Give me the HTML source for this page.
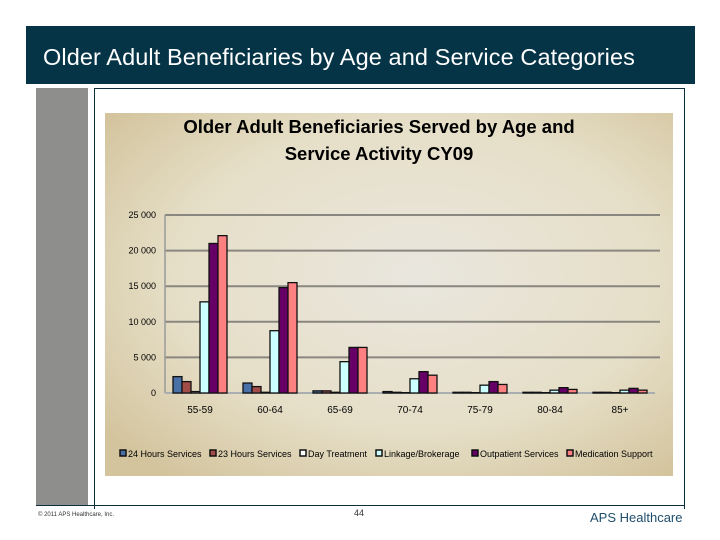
<!DOCTYPE html>
<html><head><meta charset="utf-8"><style>
body{margin:0;width:720px;height:540px;background:#fff;position:relative;overflow:hidden;font-family:"Liberation Sans",sans-serif}
.a{position:absolute}
</style></head><body>
<div class="a" style="left:26px;top:26px;width:669px;height:58px;background:#063447"></div>
<div class="a" style="left:43px;top:44px;color:#fff;font-size:23.5px;letter-spacing:0.1px">Older Adult Beneficiaries by Age and Service Categories</div>
<div class="a" style="left:36px;top:88px;width:52px;height:417px;background:#8e8f8d"></div>
<div class="a" style="left:94px;top:88px;width:589px;height:420px;border:1px solid #0b2f3f;border-bottom:none"></div>
<div class="a" style="left:36px;top:505px;width:648px;height:1px;background:#0b2f3f"></div>
<div class="a" style="left:38px;top:512px;font-size:6px;color:#333">© 2011 APS Healthcare, Inc.</div>
<div class="a" style="left:354px;top:508px;font-size:9px;color:#333">44</div>
<div class="a" style="left:590px;top:510px;font-size:13px;color:#1f4d6b">APS Healthcare</div>
<svg class="a" style="left:0;top:0" width="720" height="540">
<defs><radialGradient id="bg" cx="0.55" cy="0.45" r="0.7"><stop offset="0" stop-color="#e9e6de"/><stop offset="0.6" stop-color="#e6dfc8"/><stop offset="1" stop-color="#d3c49d"/></radialGradient></defs>
<rect x="105" y="113" width="568" height="363" fill="url(#bg)"/>
<text x="379" y="133" text-anchor="middle" font-size="18.5" font-weight="bold" font-family="Liberation Sans, sans-serif">Older Adult Beneficiaries Served by Age and</text>
<text x="379" y="160" text-anchor="middle" font-size="18.5" font-weight="bold" font-family="Liberation Sans, sans-serif">Service Activity CY09</text>
<g id="plot"></g>
</svg>
<script>
const categories=["55-59","60-64","65-69","70-74","75-79","80-84","85+"];
const s24=[2300,1400,300,200,100,100,100];
const s23=[1600,900,300,100,100,100,100];
const sDay=[200,100,100,50,50,50,50];
const sLink=[12800,8750,4400,2000,1100,400,400];
const sOut=[21000,14800,6400,3000,1600,750,650];
const sMed=[22100,15500,6400,2500,1200,500,400];
const yTicks=[0,5000,10000,15000,20000,25000];
const tickLabels=["0","5 000","10 000","15 000","20 000","25 000"];
const seriesNames=["24 Hours Services","23 Hours Services","Day Treatment","Linkage/Brokerage","Outpatient Services","Medication Support"];
const series=[s24,s23,sDay,sLink,sOut,sMed];
const colors=["#4a70a8","#a24c48","#ffffff","#ccffff","#660066","#ff8080"];
const NS="http://www.w3.org/2000/svg";
const g=document.getElementById('plot');
const X0=165,X1=655,Y0=393,YT=215,YMAX=25000;
const y=v=>Y0-(v/YMAX)*(Y0-YT);
const gw=(X1-X0)/categories.length;
function mk(t,a){const e=document.createElementNS(NS,t);for(const k in a)e.setAttribute(k,a[k]);g.appendChild(e);return e;}
yTicks.forEach((v,i)=>{
  if(v>0){const l=mk('line',{x1:X0,x2:X1+5,y1:y(v),y2:y(v),stroke:'#8a8680','stroke-width':2});
  
  }
  const t=mk('text',{x:X0-9,y:y(v)+3,'text-anchor':'end','font-size':9,'font-family':'Liberation Sans, sans-serif'});
  t.textContent=tickLabels[i];
  
  
});
const ax=mk('line',{x1:X0,x2:X0,y1:YT,y2:Y0,stroke:'#9a9a9a','stroke-width':1.5});


const bx=mk('line',{x1:X0,x2:X1,y1:Y0,y2:Y0,stroke:'#a9aeb0','stroke-width':2});


const bw=9;
categories.forEach((c,ci)=>{
  const gx=X0+ci*gw+(gw-bw*6)/2;
  series.forEach((s,si)=>{
    const top=y(s[ci]);
    const r=mk('rect',{x:gx+si*bw,y:top,width:bw,height:Y0-top,fill:colors[si],stroke:'#111','stroke-width':1.3});
    
    
  });
  const t=mk('text',{x:X0+ci*gw+gw/2,y:Y0+20,'text-anchor':'middle','font-size':10,'font-family':'Liberation Sans, sans-serif'});
  t.textContent=c;
  
  
});
let lx=120;
const lw=[90,90,76,96,95,90];
seriesNames.forEach((n,i)=>{
  const r=mk('rect',{x:lx,y:450,width:6,height:6,fill:colors[i],stroke:'#111','stroke-width':1.5});
  
  
  const t=mk('text',{x:lx+8,y:457,'font-size':9,'font-family':'Liberation Sans, sans-serif'});
  t.textContent=n;
  
  
  lx+=lw[i];
});
</script>
</body></html>
